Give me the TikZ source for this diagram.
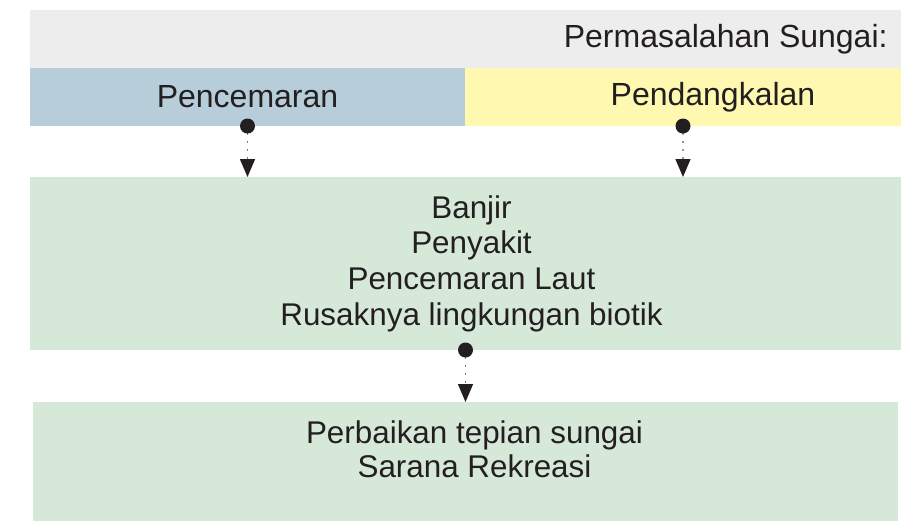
\documentclass[tikz,border=0pt]{standalone}
\usepackage{fontspec}
\setmainfont{Liberation Sans}
\usetikzlibrary{positioning,arrows.meta}

\definecolor{bandgray}{RGB}{237,237,237}
\definecolor{polblue}{RGB}{183,205,217}
\definecolor{sedyellow}{RGB}{255,248,176}
\definecolor{effgreen}{RGB}{214,232,216}
\definecolor{inkblack}{RGB}{35,31,32}

\begin{document}
\begin{tikzpicture}[x=0.5pt,y=-0.5pt,
  font=\fontsize{16}{17.5}\selectfont,text=inkblack,
  box/.style={rectangle,inner sep=0pt,outer sep=0pt,align=center},
  txt/.style={inner sep=0pt,align=center},
  bodytxt/.style={txt,font=\fontsize{15.7}{17.8}\selectfont},
  dotnode/.style={circle,fill=inkblack,minimum size=7.5pt,inner sep=0pt},
  flow/.style={inkblack,line width=0.75pt,dash pattern=on 0.01pt off 4pt,
    line cap=round,-{Triangle[width=7.5pt,length=9pt]}}]

  \useasboundingbox (0,0) rectangle (912,521);

  % header band
  \node[box,fill=bandgray,minimum width=435.5pt,minimum height=29pt] (band) at (465.5,39) {};
  \node[txt,left=6.5pt of band.east] (title) {Permasalahan Sungai:};

  % the two problems
  \node[box,fill=polblue,minimum width=217.5pt,minimum height=29pt,
    anchor=north west] (pol) at (band.south west) {Pencemaran};
  \node[box,fill=sedyellow,minimum width=218pt,minimum height=29pt,
    anchor=north west] (sed) at (pol.north east) {};
  \node[txt,xshift=15pt] (sedtxt) at (sed.center) {Pendangkalan};

  % effects
  \node[box,fill=effgreen,minimum width=435.5pt,minimum height=86.5pt] (effect)
    at (465.5,263.5) {};
  \node[bodytxt,xshift=3pt] (efftxt) at (effect.center)
    {Banjir\\Penyakit\\Pencemaran Laut\\Rusaknya lingkungan biotik};

  % recovery
  \node[box,fill=effgreen,minimum width=432.5pt,minimum height=59.5pt] (recov)
    at (465.5,461.5) {};
  \node[bodytxt,below=9pt of recov.north,xshift=4.5pt] (recovtxt)
    {Perbaikan tepian sungai\\[-0.5pt]Sarana Rekreasi};

  % connectors
  \node[dotnode] (pold) at (pol.south) {};
  \node[dotnode] (sedd) at (sed.south) {};
  \node[dotnode] (effd) at (effect.south) {};
  \coordinate (pola) at (pold |- effect.north);
  \coordinate (seda) at (sedd |- effect.north);
  \coordinate (effa) at (effd |- recov.north);

  \draw[flow] (pold) -- (pola);
  \draw[flow] (sedd) -- (seda);
  \draw[flow] (effd) -- (effa);
\end{tikzpicture}
\end{document}
